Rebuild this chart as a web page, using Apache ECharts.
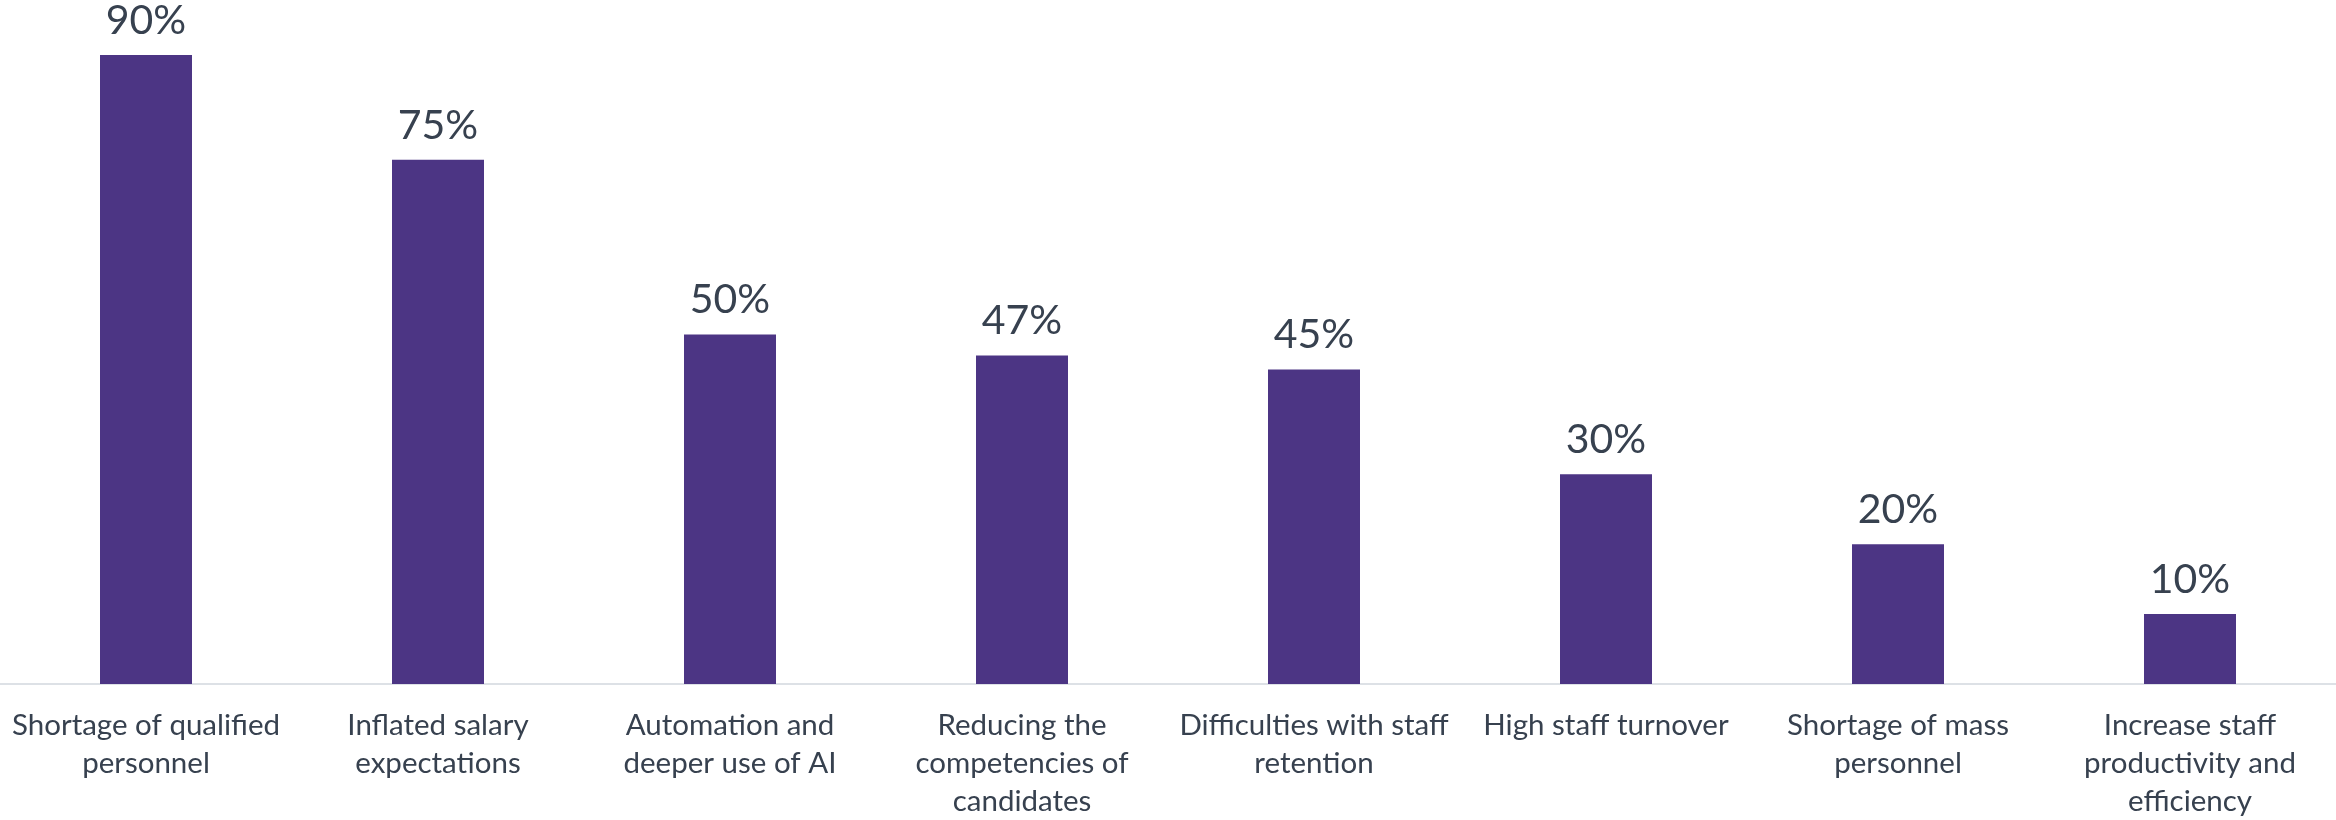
<!DOCTYPE html>
<html>
<head>
<meta charset="utf-8">
<title>Recruitment challenges</title>
<script src="https://cdn.jsdelivr.net/npm/echarts@6/dist/echarts.min.js"></script>
<style>
  html, body { margin: 0; padding: 0; background: #ffffff; }
  #chart { width: 2336px; height: 820px; }
</style>
</head>
<body>
<div id="chart"></div>
<script>
// Categories (line breaks follow the printed wrapping)
const categories = [
  'Shortage of qualified\npersonnel',
  'Inflated salary\nexpectations',
  'Automation and\ndeeper use of AI',
  'Reducing the\ncompetencies of\ncandidates',
  'Difficulties with staff\nretention',
  'High staff turnover',
  'Shortage of mass\npersonnel',
  'Increase staff\nproductivity and\nefficiency'
];

// Share of respondents, percent
const shares = [90, 75, 50, 47, 45, 30, 20, 10];

const BAR_COLOR = '#4c3584';
const TEXT_COLOR = '#37414f';
const FONT = 'Lato, "Open Sans", sans-serif';

const chart = echarts.init(document.getElementById('chart'), null, { renderer: 'canvas' });

chart.setOption({
  animation: false,
  backgroundColor: '#ffffff',
  grid: { left: 0, right: 0, top: 55, bottom: 135, containLabel: false },
  xAxis: {
    type: 'category',
    data: categories,
    axisTick: { show: false },
    axisLine: { show: true, lineStyle: { color: '#dde1e6', width: 2 } },
    axisLabel: {
      interval: 0,
      margin: 22,
      color: TEXT_COLOR,
      fontFamily: FONT,
      fontSize: 29.5,
      lineHeight: 38,
      align: 'center'
    },
    splitLine: { show: false }
  },
  yAxis: {
    type: 'value',
    min: 0,
    max: 90,
    show: false
  },
  series: [{
    type: 'bar',
    data: shares,
    barWidth: 92,
    itemStyle: { color: BAR_COLOR },
    label: {
      show: true,
      position: 'top',
      distance: 14,
      formatter: p => p.value + '%',
      color: TEXT_COLOR,
      fontFamily: FONT,
      fontSize: 41
    }
  }]
});
</script>
</body>
</html>
